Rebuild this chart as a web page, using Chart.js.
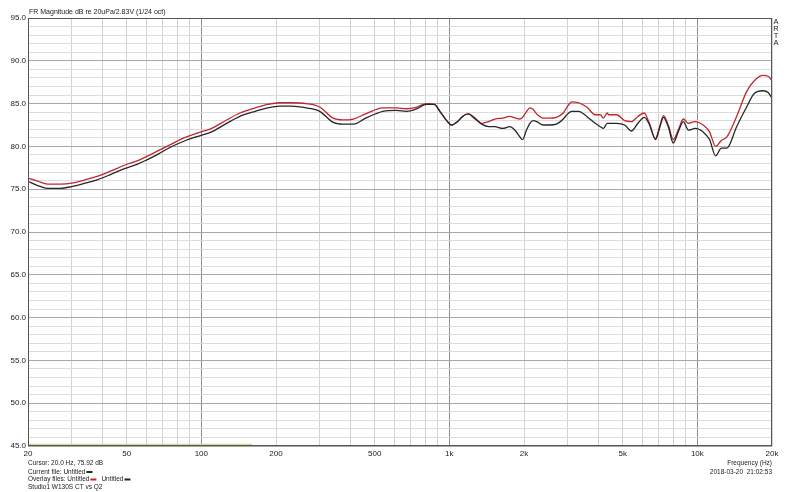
<!DOCTYPE html>
<html><head><meta charset="utf-8">
<script src="https://cdn.jsdelivr.net/npm/chart.js@4.4.1/dist/chart.umd.min.js"></script>
<style>html,body{margin:0;background:#fff}canvas{display:block}</style>
</head><body>
<canvas id="c" width="800" height="492"></canvas>
<script>
// ── データ ─────────────────────────────
const freqHz=[20,22,24,27,30,34,38,43,49,55,60,67,75,85,95,100,110,125,143,165,185,207,230,265,300,340,372,410,460,540,610,672,740,808,870,916,970,1022,1080,1130,1192,1260,1350,1440,1526,1640,1754,1850,1926,1975,2040,2112,2180,2250,2390,2540,2700,2880,3000,3112,3320,3580,3874,4060,4180,4330,4390,4730,5094,5420,5760,6110,6400,6780,7050,7300,7650,7996,8400,8780,9200,9800,10540,11200,11850,12500,13150,14400,15800,17000,18400,19300,20000];
const redDb=[76.3,75.9,75.6,75.6,75.7,76.1,76.5,77.1,77.8,78.3,78.8,79.5,80.2,81.0,81.5,81.7,82.1,83.0,83.9,84.5,84.9,85.1,85.1,85.0,84.6,83.3,83.1,83.2,83.8,84.5,84.5,84.4,84.6,85.0,84.9,84.1,83.1,82.5,82.9,83.5,83.8,83.4,82.7,82.9,83.2,83.3,83.5,83.3,83.2,83.4,84.0,84.5,84.3,83.8,83.3,83.3,83.4,83.9,84.7,85.2,85.1,84.6,83.7,83.7,83.3,83.9,83.7,83.7,83.0,82.9,83.5,83.9,82.7,80.9,82.3,83.6,82.4,80.8,82.0,83.2,82.7,82.9,82.5,81.7,80.0,80.7,81.1,83.5,86.4,87.7,88.3,88.2,87.7];
const blackDb=[75.92,75.4,75.1,75.1,75.3,75.7,76.1,76.7,77.4,77.9,78.4,79.1,79.9,80.6,81.1,81.3,81.7,82.6,83.5,84.1,84.5,84.7,84.7,84.5,84.1,82.8,82.6,82.6,83.3,84.1,84.2,84.1,84.4,84.9,84.9,84.1,83.1,82.5,82.9,83.5,83.8,83.3,82.6,82.3,82.3,82.1,82.3,81.8,81.1,80.8,81.8,82.7,83.0,82.9,82.5,82.5,82.6,83.2,83.8,84.1,84.1,83.5,82.7,82.3,82.1,82.7,82.7,82.7,82.5,81.8,82.7,83.4,82.6,80.8,82.2,83.4,82.2,80.4,81.8,82.9,81.9,82.1,81.7,80.8,78.9,79.8,79.8,82.3,84.6,86.2,86.5,86.3,85.6];
const markFreq=[20,160];
const markDb=[45.15,45.15];
const gridFreq=[20,30,40,50,60,70,80,90,100,200,300,400,500,600,700,800,900,1000,2000,3000,4000,5000,6000,7000,8000,9000,10000,20000];
const labelFreq=[20,50,100,200,500,1000,2000,5000,10000,20000];
const titleTxt='FR Magnitude dB re 20uPa/2.83V (1/24 oct)';
const cursorTxt='Cursor: 20.0 Hz, 75.92 dB';
const noteTxt='Studio1 W130S CT vs Q2';
const xTitle='Frequency (Hz)';
const stamp='2018-03-20  21:02:53';

const RED='#c0262c', BLK='#262626';
const FONT='"Liberation Sans", Arial, sans-serif';
const pts=(xs,ys)=>xs.map((x,i)=>({x,y:ys[i]}));

// ── 文字・枠描画 ─────────────────────────
const deco={id:'deco',afterDraw(ch){
  const c=ch.ctx,a=ch.chartArea;
  c.save();
  c.strokeStyle='#555';c.lineWidth=1;
  c.strokeRect(Math.round(a.left)+.5,Math.round(a.top)+.5,Math.round(a.right-a.left)-1,Math.round(a.bottom-a.top)-1);
  c.fillStyle='#222';c.textBaseline='middle';
  c.font='7px '+FONT;c.textAlign='left';
  c.fillText(titleTxt,29,12.5);
  // ARTA 縦書き
  c.textAlign='center';c.font='7.5px '+FONT;
  ['A','R','T','A'].forEach((s,i)=>c.fillText(s,776,21.5+i*7.2));
  // 左下
  c.textAlign='left';c.font='6.5px '+FONT;
  c.fillText(cursorTxt,28,463);
  const dash=(x,y,col)=>{c.fillStyle=col;c.fillRect(x,y-1,6,2);c.fillStyle='#222';};
  let t='Current file: Untitled';c.fillText(t,28,472);dash(28+c.measureText(t).width+1,472,BLK);
  t='Overlay files: Untitled';c.fillText(t,28,479.5);let w=28+c.measureText(t).width+1;dash(w,479.5,RED);
  w+=11;c.fillText('Untitled',w,479.5);dash(w+c.measureText('Untitled').width+1,479.5,BLK);
  c.fillText(noteTxt,28,487);
  // 右下
  c.textAlign='right';
  c.fillText(xTitle,772,463);
  c.fillText(stamp,772,472);
  c.restore();
}};

new Chart(document.getElementById('c'),{
  type:'line',
  data:{datasets:[
    {label:'Untitled',data:pts(freqHz,blackDb),borderColor:BLK,borderWidth:1.3,pointRadius:0,cubicInterpolationMode:'monotone'},
    {label:'Overlay',data:pts(freqHz,redDb),borderColor:RED,borderWidth:1.3,pointRadius:0,cubicInterpolationMode:'monotone'},
    {label:'mark',data:pts(markFreq,markDb),borderColor:'#dcd98a',borderWidth:2,pointRadius:0}
  ]},
  options:{responsive:false,animation:false,
    layout:{padding:{top:18,right:28,left:0,bottom:0}},
    plugins:{legend:{display:false},tooltip:{enabled:false}},
    scales:{
      x:{type:'logarithmic',min:20,max:20000,
        afterFit:s=>{s.height=46;},
        afterBuildTicks:s=>{s.ticks=gridFreq.map(v=>({value:v}));},
        border:{display:false},
        grid:{drawTicks:false,color:c=>{const v=c.tick&&c.tick.value;return (v===100||v===1000||v===10000)?'#8c8c8c':'#d2d2d2';}},
        ticks:{autoSkip:false,maxRotation:0,padding:3,color:'#222',font:{family:FONT,size:8},
          callback:v=>labelFreq.includes(v)?(v>=1000?(v/1000)+'k':String(v)):''}},
      y:{min:45,max:95,
        afterFit:s=>{s.width=28;},
        border:{display:false},
        grid:{drawTicks:false,color:c=>(c.tick&&c.tick.value%5===0)?'#a8a8a8':'#dcdcdc'},
        ticks:{stepSize:1,autoSkip:false,padding:2,color:'#222',font:{family:FONT,size:8},
          callback:v=>v%5===0?v.toFixed(1):''}}
    }},
  plugins:[deco]
});
</script>
</body></html>
